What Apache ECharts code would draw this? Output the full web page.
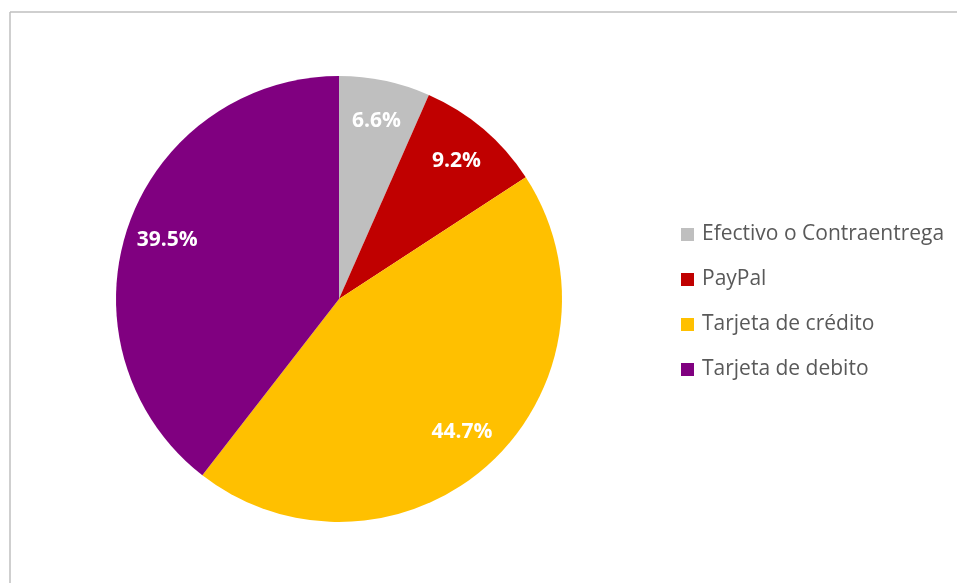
<!DOCTYPE html>
<html>
<head>
<meta charset="utf-8">
<script src="https://cdn.jsdelivr.net/npm/echarts@6/dist/echarts.min.js"></script>
<style>
  html, body { margin: 0; padding: 0; background: #ffffff; }
  #chart { width: 957px; height: 583px; }
</style>
</head>
<body>
<div id="chart"></div>
<script>
// Payment method shares (%)
const categories = ['Efectivo o Contraentrega', 'PayPal', 'Tarjeta de crédito', 'Tarjeta de debito'];
const values = [6.6, 9.2, 44.7, 39.5];
const colors = ['#BFBFBF', '#C00000', '#FFC000', '#800080'];

const data = categories.map((name, i) => ({ name, value: values[i], itemStyle: { color: colors[i] } }));

const chart = echarts.init(document.getElementById('chart'));
chart.setOption({
  animation: false,
  backgroundColor: '#ffffff',
  legend: {
    orient: 'vertical',
    left: 681,
    top: 222.5,
    padding: 0,
    itemWidth: 13,
    itemHeight: 13,
    itemGap: 21,
    icon: 'rect',
    data: categories,
    textStyle: { fontFamily: 'Open Sans', fontSize: 21, color: '#595959', lineHeight: 24, padding: [0, 0, 0, 3] }
  },
  graphic: [
    { type: 'line', shape: { x1: 10, y1: 12, x2: 957, y2: 12 }, style: { stroke: '#BFBFBF', lineWidth: 1.5 } },
    { type: 'line', shape: { x1: 10, y1: 12, x2: 10, y2: 583 }, style: { stroke: '#BFBFBF', lineWidth: 1.5 } }
  ],
  series: [
    {
      type: 'pie',
      center: [339, 299],
      radius: [0, 223],
      startAngle: 90,
      clockwise: true,
      label: { show: false },
      labelLine: { show: false },
      emphasis: { disabled: true },
      data: data
    },
    {
      // label ring: places the percentage text near the outer part of each slice
      type: 'pie',
      center: [339, 299],
      radius: [134, 223],
      startAngle: 90,
      clockwise: true,
      silent: true,
      itemStyle: { color: 'transparent' },
      labelLine: { show: false },
      emphasis: { disabled: true },
      label: {
        show: true,
        position: 'inside',
        formatter: p => p.value.toFixed(1) + '%',
        color: '#ffffff',
        fontFamily: 'Open Sans',
        fontWeight: 'bold',
        fontSize: 21
      },
      data: categories.map((name, i) => ({ name, value: values[i], itemStyle: { color: 'transparent' } }))
    }
  ]
});
</script>
</body>
</html>
